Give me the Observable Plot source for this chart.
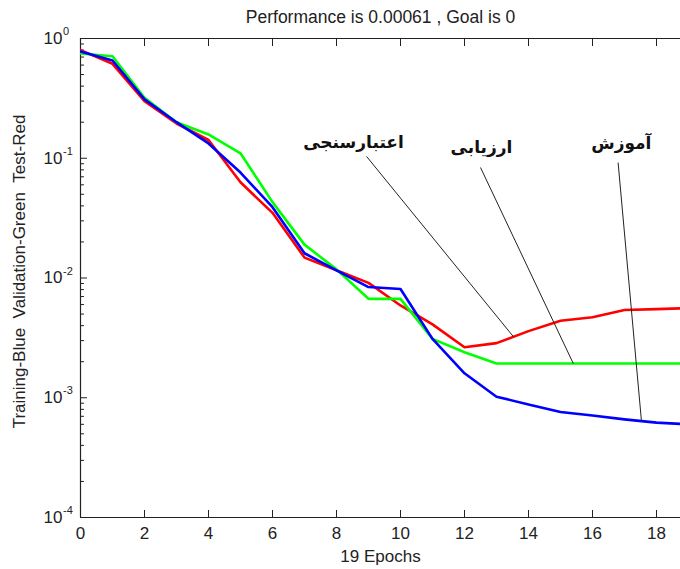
<!DOCTYPE html>
<html><head><meta charset="utf-8">
<script src="https://cdn.jsdelivr.net/npm/d3@7"></script>
<script src="https://cdn.jsdelivr.net/npm/@observablehq/plot@0.6"></script>
<style>html,body{margin:0;padding:0;background:#fff}svg{display:block}</style>
</head><body><div id="chart"></div>
<script>
// ---- data ----
const epochs = [0,1,2,3,4,5,6,7,8,9,10,11,12,13,14,15,16,17,18,19];
const training   = [0.78,0.655,0.31,0.20,0.133,0.076,0.039,0.0161,0.0116,0.0084,0.0081,0.0031,0.0016,0.00102,0.00088,0.00076,0.00071,0.00066,0.00062,0.00060];
const validation = [0.75,0.71,0.32,0.20,0.158,0.11,0.043,0.019,0.0118,0.0067,0.0067,0.0031,0.0024,0.00193,0.00193,0.00193,0.00193,0.00193,0.00193,0.00193];
const test       = [0.80,0.615,0.30,0.195,0.142,0.063,0.035,0.0148,0.0116,0.0091,0.0059,0.0041,0.00264,0.00286,0.0036,0.0044,0.0047,0.0054,0.0055,0.0056];
const xTicks = [0,2,4,6,8,10,12,14,16,18];
const yMajor = [1e-4,1e-3,1e-2,1e-1,1];
const yExponents = ["-4","-3","-2","-1","0"];
const titleText = "Performance is 0.00061 , Goal is 0";
const xLabel = "19 Epochs";
const yLabel = "Training-Blue\u00a0\u00a0Validation-Green\u00a0\u00a0Test-Red";
// annotations (data coordinates)
const annLabels = ["اعتبارسنجی","ارزیابی","آموزش"];
const annLabelX = [8.53, 12.53, 16.9];
const annLabelY = [0.135, 0.123, 0.133];
const annStartX = [8.94, 12.5, 16.8];
const annStartY = [0.1035, 0.0837, 0.092];
const annTarget = ["test","validation","training"];
const annTargetX = [13.53, 15.4, 17.53];

// ---- build tables ----
const seriesMap = {training, validation, test};
const rows = name => epochs.map((e,i) => ({epoch: e, value: seriesMap[name][i]}));
function interpLog(name, x) {
  const s = seriesMap[name];
  const i = Math.min(Math.floor(x), epochs.length - 2);
  const t = x - epochs[i];
  return Math.pow(10, Math.log10(s[i]) * (1 - t) + Math.log10(s[i+1]) * t);
}
const ann = annLabels.map((label,i) => ({
  label, lx: annLabelX[i], ly: annLabelY[i],
  x1: annStartX[i], y1: annStartY[i],
  x2: annTargetX[i], y2: interpLog(annTarget[i], annTargetX[i])
}));
const yMinor = [];
for (let k = -4; k < 0; k++) for (let m = 2; m <= 9; m++) yMinor.push(m * Math.pow(10, k));

const font = "'Liberation Sans', Arial, sans-serif";
const chart = Plot.plot({
  width: 680, height: 569,
  marginLeft: 80, marginRight: 0, marginTop: 38, marginBottom: 52,
  x: {domain: [0, 18.75]},
  y: {type: "log", domain: [1e-4, 1]},
  style: {fontFamily: font, fontSize: "17px", color: "#222", background: "#fff", overflow: "visible"},
  marks: [
    Plot.ruleX([0], {stroke: "#222", strokeWidth: 1.2}),
    Plot.ruleY([1e-4], {stroke: "#222", strokeWidth: 1.2}),
    Plot.ruleY([1], {stroke: "#222", strokeWidth: 1.2}),
    Plot.axisX({anchor: "bottom", ticks: xTicks, tickSize: -7, tickFormat: () => "", label: null, stroke: "#222"}),
    Plot.axisX({anchor: "top", ticks: xTicks, tickSize: -7, tickFormat: () => "", label: null, stroke: "#222"}),
    Plot.axisY({anchor: "left", ticks: yMajor, tickSize: -7, tickFormat: () => "", label: null, stroke: "#222"}),
    Plot.axisY({anchor: "left", ticks: yMinor, tickSize: -4, tickFormat: () => "", label: null, stroke: "#222"}),
    Plot.text(xTicks, {x: d => d, frameAnchor: "bottom", lineAnchor: "middle", dy: 16.5, text: d => String(d), fill: "#222"}),
    Plot.text(yMajor, {x: 0, y: d => d, text: () => "10", textAnchor: "end", lineAnchor: "middle", dx: -18, dy: 0, fill: "#222"}),
    Plot.text(yMajor, {x: 0, y: d => d, text: (d, i) => yExponents[i], textAnchor: "start", lineAnchor: "middle", dx: -17.5, dy: -7, fontSize: 11, fill: "#222"}),
    Plot.text([titleText], {frameAnchor: "top", lineAnchor: "middle", textAnchor: "middle", dy: -21, fontSize: 17.5, fill: "#222"}),
    Plot.text([xLabel], {frameAnchor: "bottom", lineAnchor: "middle", textAnchor: "middle", dy: 39, fill: "#222"}),
    Plot.text([yLabel], {frameAnchor: "left", rotate: -90, textAnchor: "middle", lineAnchor: "middle", dx: -61, dy: -6.5, fill: "#222"}),
    Plot.line(rows("test"), {x: "epoch", y: "value", stroke: "#ff0000", strokeWidth: 2.6, clip: true}),
    Plot.line(rows("validation"), {x: "epoch", y: "value", stroke: "#00ff00", strokeWidth: 2.6, clip: true}),
    Plot.line(rows("training"), {x: "epoch", y: "value", stroke: "#0000ff", strokeWidth: 2.6, clip: true}),
    Plot.link(ann, {x1: "x1", y1: "y1", x2: "x2", y2: "y2", stroke: "#222", strokeWidth: 1}),
    Plot.text(ann, {x: "lx", y: "ly", text: "label", fontFamily: "'DejaVu Sans', sans-serif", fontWeight: "bold", fontSize: 17, fill: "#111"})
  ]
});
document.getElementById("chart").appendChild(chart);
</script>
</body></html>
